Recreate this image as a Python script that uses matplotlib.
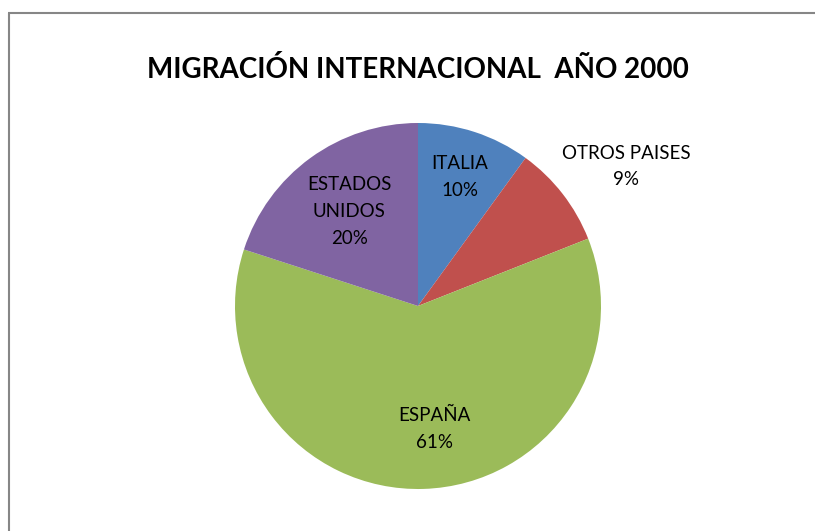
import numpy as np
import matplotlib.pyplot as plt
from matplotlib.lines import Line2D

paises = ['ITALIA', 'OTROS PAISES', 'ESPAÑA', 'ESTADOS\nUNIDOS']
porcentajes = [10, 9, 61, 20]
colores = ['#4F81BD', '#C0504D', '#9BBB59', '#8064A2']
titulo = 'MIGRACIÓN INTERNACIONAL  AÑO 2000'

plt.rcParams['font.family'] = ['Lato', 'DejaVu Sans']

W, H = 815, 531
fig = plt.figure(figsize=(W/100., H/100.), dpi=100)

# marco (solo arriba e izquierda visibles)
fig.add_artist(Line2D([8/W, 1.02], [1-12.5/H, 1-12.5/H], color='#868686', lw=1.5,
                      solid_capstyle='butt', transform=fig.transFigure))
fig.add_artist(Line2D([8.5/W, 8.5/W], [-0.02, 1-12.5/H], color='#868686', lw=1.5,
                      solid_capstyle='butt', transform=fig.transFigure))

cx, cy, r = 418, 306, 183
ax = fig.add_axes([(cx-r)/W, (H-cy-r)/H, 2*r/W, 2*r/H])
wedges, _ = ax.pie(porcentajes, colors=colores, startangle=90, counterclock=False,
                   radius=1, wedgeprops=dict(linewidth=0))
ax.set_xlim(-1, 1)
ax.set_ylim(-1, 1)
ax.set_aspect('equal')
ax.axis('off')

# etiquetas: distancia desde el centro (en radios) y angulo a mano donde Excel las movio
dist = [0.74, 1.37, 0.68, 0.64]
ang_extra = [0, -4, 6, 0]
for w, nombre, p, d, da in zip(wedges, paises, porcentajes, dist, ang_extra):
    a = np.deg2rad((w.theta1 + w.theta2)/2. + da)
    ax.text(d*np.cos(a), d*np.sin(a), u'%s\n%d%%' % (nombre, p), ha='center', va='center',
            fontsize=13.5, linespacing=1.7, color='black')

fig.text(cx/W, 1-69/H, titulo, ha='center', va='center', fontsize=20, fontweight='bold')

fig.savefig('out.png', dpi=100)
